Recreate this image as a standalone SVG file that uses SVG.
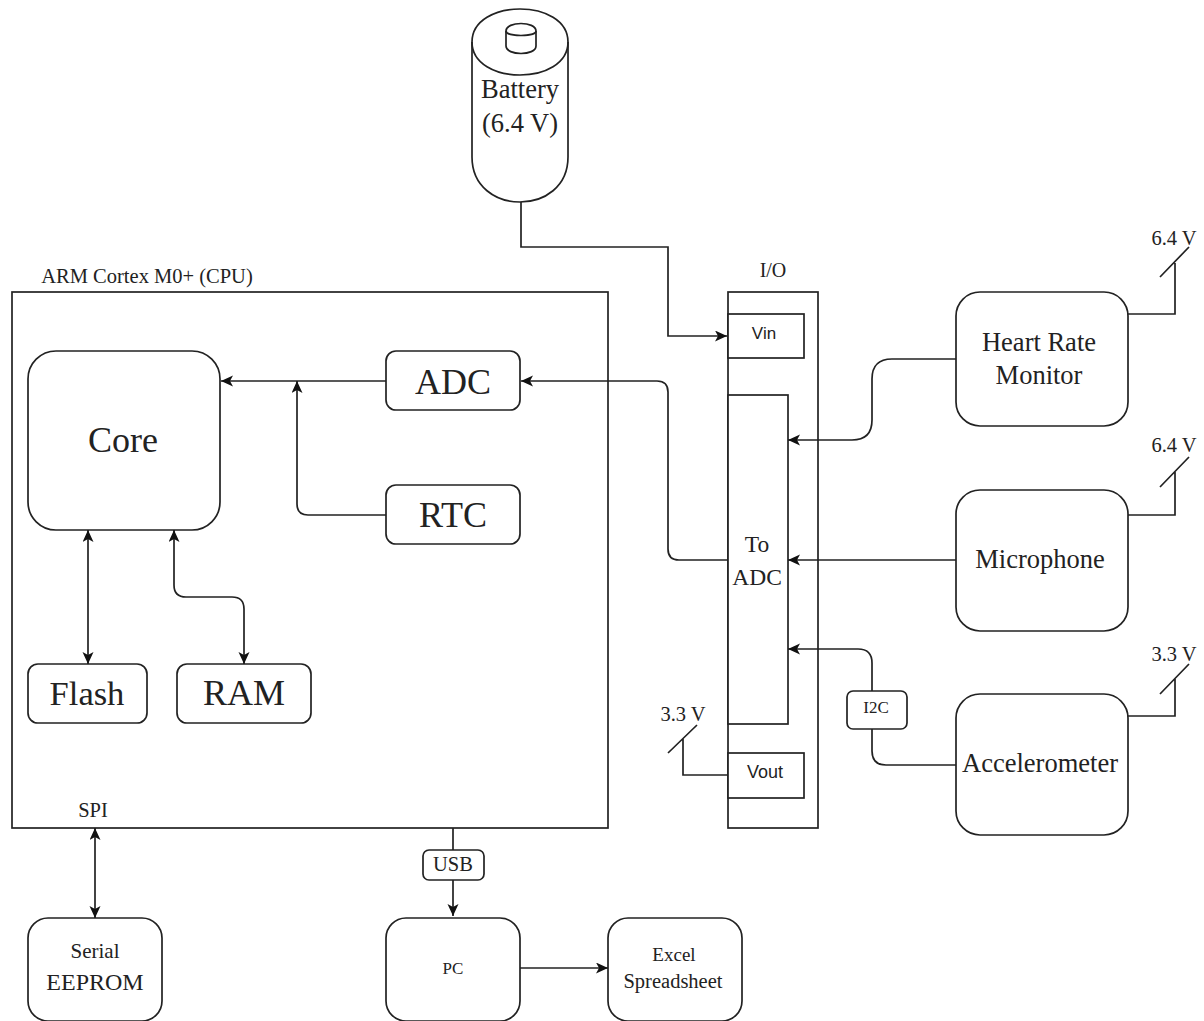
<svg xmlns="http://www.w3.org/2000/svg" width="1204" height="1021" viewBox="0 0 1204 1021">
<defs>
<marker id="a" markerUnits="userSpaceOnUse" markerWidth="14" markerHeight="12" refX="12" refY="5.5" orient="auto-start-reverse"><path d="M0 0L12 5.5L0 11L3 5.5Z" fill="#111"/></marker>
</defs>
<style>
.s{fill:#fff;stroke:#222;stroke-width:1.7}
.n{fill:none;stroke:#222;stroke-width:1.7}
.c{fill:none;stroke:#222;stroke-width:1.7;marker-end:url(#a)}
.b{fill:none;stroke:#222;stroke-width:1.7;marker-end:url(#a);marker-start:url(#a)}
text{font-family:"Liberation Serif",serif;fill:#222;text-anchor:middle}
</style>
<rect width="1204" height="1021" fill="#fff"/>
<g id="cpu"><rect class="s" x="12" y="292" width="596" height="536"/><text x="147" y="283" font-size="20.5">ARM Cortex M0+ (CPU)</text></g>
<g id="io"><rect class="s" x="728" y="292" width="90" height="536"/><text x="773" y="277" font-size="20">I/O</text></g>
<g id="battery"><path class="s" d="M472 42C472 -2 568 -2 568 42V157C568 217 472 217 472 157Z"/><path class="n" d="M472 42C472 86 568 86 568 42"/><path class="n" d="M506 31C506 21 536 21 536 31V46C536 56 506 56 506 46Z"/><path class="n" d="M506 31C506 37 536 37 536 31"/><text x="520" y="98" font-size="26.5">Battery</text><text x="520" y="132" font-size="26.5">(6.4 V)</text></g>
<g id="vin"><rect class="s" x="728" y="314" width="76" height="44"/><text x="764" y="339" font-size="17" style="font-family:'Liberation Sans',sans-serif">Vin</text></g>
<g id="toadc"><rect class="s" x="728" y="395" width="60" height="329"/><text x="757" y="552" font-size="23.5">To</text><text x="757" y="585" font-size="23.5">ADC</text></g>
<g id="vout"><rect class="s" x="728" y="753" width="76" height="45"/><text x="765" y="778" font-size="18" style="font-family:'Liberation Sans',sans-serif">Vout</text></g>
<g id="core"><rect class="s" x="28" y="351" width="192" height="179" rx="28"/><text x="123" y="452" font-size="36">Core</text></g>
<g id="adc"><rect class="s" x="386" y="351" width="134" height="59" rx="10"/><text x="453" y="394" font-size="36">ADC</text></g>
<g id="rtc"><rect class="s" x="386" y="485" width="134" height="59" rx="10"/><text x="453" y="527" font-size="36">RTC</text></g>
<g id="flash"><rect class="s" x="28" y="664" width="119" height="59" rx="10"/><text x="87" y="705" font-size="34.5">Flash</text></g>
<g id="ram"><rect class="s" x="177" y="664" width="134" height="59" rx="10"/><text x="244" y="705" font-size="36">RAM</text></g>
<g id="hrm"><rect class="s" x="956" y="292" width="172" height="134" rx="24"/><text x="1039" y="351" font-size="26.5">Heart Rate</text><text x="1039" y="384" font-size="26.5">Monitor</text></g>
<g id="mic"><rect class="s" x="956" y="490" width="172" height="141" rx="24"/><text x="1040" y="568" font-size="26.5">Microphone</text></g>
<g id="accel"><rect class="s" x="956" y="694" width="172" height="141" rx="24"/><text x="1040" y="772" font-size="26.5">Accelerometer</text></g>
<g id="eeprom"><rect class="s" x="28" y="918" width="134" height="103" rx="20"/><text x="95" y="958" font-size="21">Serial</text><text x="95" y="990" font-size="24">EEPROM</text></g>
<g id="pc"><rect class="s" x="386" y="918" width="134" height="103" rx="20"/><text x="453" y="974" font-size="17">PC</text></g>
<g id="excel"><rect class="s" x="608" y="918" width="134" height="103" rx="20"/><text x="674" y="961" font-size="19">Excel</text><text x="673" y="988" font-size="20.5">Spreadsheet</text></g>
<g id="connectors">
<path class="c" d="M521 202V247H668V336H727"/>
<path class="c" d="M386 381H221"/>
<path class="c" d="M386 515H308Q297 515 297 504V381"/>
<path class="c" d="M728 560H679Q668 560 668 549V392Q668 381 657 381H521"/>
<path class="c" d="M956 359H892Q872 359 872 379V420Q872 440 852 440H788"/>
<path class="c" d="M956 560H788"/>
<path class="c" d="M956 765H886Q872 765 872 751V663Q872 649 858 649H788"/>
<path class="b" d="M88 530V664"/>
<path class="b" d="M174 530V585Q174 597 186 597H232Q244 597 244 609V664"/>
<path class="b" d="M95 828V918"/>
<path class="c" d="M453 828V916"/>
<path class="c" d="M520 968H608"/>
<path class="n" d="M1128 314H1175V263M1160 277L1189 247"/>
<path class="n" d="M1128 515H1175V472M1160 487L1189 457"/>
<path class="n" d="M1128 716H1175V679M1160 694L1189 664"/>
<path class="n" d="M728 775H683V739M668 753L697 725"/>
</g>
<g id="usb"><rect class="s" x="423" y="850" width="61" height="30" rx="6"/><text x="453" y="871" font-size="20.5">USB</text></g>
<g id="i2c"><rect class="s" x="847" y="691" width="60" height="38" rx="6"/><text x="876" y="713" font-size="17">I2C</text></g>
<g id="labels"><text x="93" y="817" font-size="20.5">SPI</text><text x="1174" y="245" font-size="20.5">6.4 V</text><text x="1174" y="452" font-size="20.5">6.4 V</text><text x="1174" y="661" font-size="20.5">3.3 V</text><text x="683" y="721" font-size="20.5">3.3 V</text></g>
</svg>
